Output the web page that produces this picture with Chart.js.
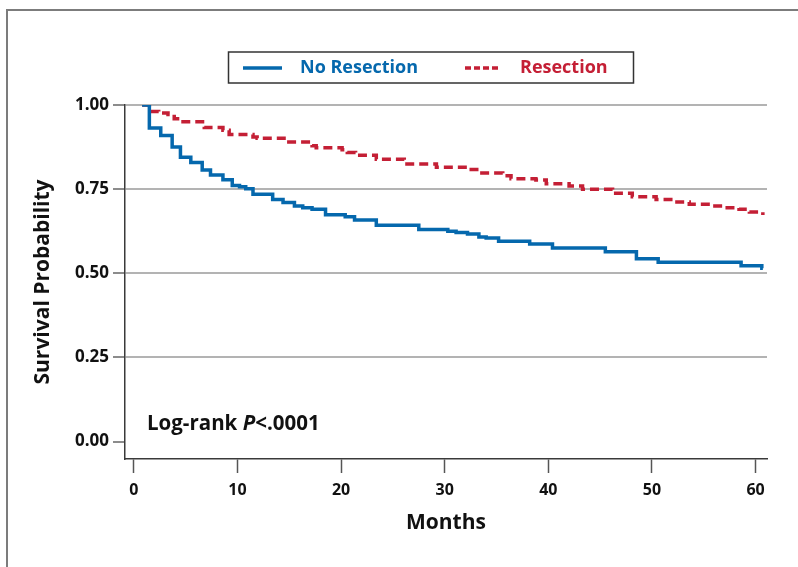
<!DOCTYPE html>
<html>
<head>
<meta charset="utf-8">
<title>Survival by resection status</title>
<script src="https://cdn.jsdelivr.net/npm/chart.js@4.4.1/dist/chart.umd.min.js"></script>
<style>
  html, body { margin: 0; padding: 0; background: #ffffff; }
  canvas { display: block; }
</style>
</head>
<body>
<canvas id="km" width="798" height="567"></canvas>
<script>
// Kaplan-Meier estimates: month of each drop and the survival after it
const seriesNames = ['No Resection', 'Resection'];

const noResectionMonths = [0.8, 1.5, 2.6, 3.7, 4.5, 5.5, 6.6, 7.4, 8.6, 9.5, 10.2, 10.8, 11.5,
  13.4, 14.4, 15.5, 16.3, 17.2, 18.5, 20.4, 21.3, 23.4, 27.5, 30.3, 31.1, 32.2, 33.3, 34.0,
  35.2, 38.2, 40.4, 45.5, 48.5, 50.6, 58.6, 60.6, 60.7];
const noResectionSurvival = [1.0, 0.932, 0.909, 0.875, 0.845, 0.829, 0.807, 0.792, 0.778, 0.761, 0.757, 0.751, 0.735,
  0.719, 0.710, 0.700, 0.695, 0.690, 0.674, 0.668, 0.658, 0.643, 0.630, 0.625, 0.621, 0.617, 0.608, 0.605,
  0.595, 0.587, 0.575, 0.564, 0.543, 0.533, 0.522, 0.515, 0.515];

const resectionMonths = [0.8, 1.5, 2.4, 3.3, 3.9, 4.4, 6.8, 8.6, 9.2, 11.5, 11.9, 14.7, 17.2, 17.6,
  20.1, 20.6, 21.4, 23.4, 26.1, 29.2, 32.2, 33.3, 35.6, 36.4, 38.8, 39.8, 42.0, 43.3, 46.2,
  48.1, 50.4, 52.0, 53.6, 55.9, 56.8, 58.4, 59.4, 60.7];
const resectionSurvival = [1.0, 0.981, 0.976, 0.972, 0.959, 0.950, 0.933, 0.925, 0.912, 0.905, 0.901, 0.890, 0.879, 0.873,
  0.867, 0.859, 0.851, 0.839, 0.825, 0.815, 0.808, 0.798, 0.790, 0.781, 0.777, 0.766, 0.759, 0.750, 0.738,
  0.727, 0.719, 0.712, 0.705, 0.700, 0.695, 0.690, 0.682, 0.673];

const monthTicks = [0, 10, 20, 30, 40, 50, 60];
const probabilityTicks = [0, 0.25, 0.5, 0.75, 1.0];
const probabilityLabels = ['0.00', '0.25', '0.50', '0.75', '1.00'];

const BLUE = '#0568ad';
const RED = '#c41f35';
const FONT = '"Open Sans", "Noto Sans", sans-serif';

function toPoints(months, values) {
  return months.map((m, i) => ({ x: m, y: values[i] }));
}

// Page frame, boxed legend and the log-rank annotation
const decorations = {
  id: 'decorations',
  beforeDraw(chart) {
    const ctx = chart.ctx;
    ctx.save();
    ctx.strokeStyle = '#7c7c7c';
    ctx.lineWidth = 2;
    ctx.beginPath();
    ctx.moveTo(7, 567);
    ctx.lineTo(7, 10);
    ctx.lineTo(798, 10);
    ctx.stroke();
    ctx.restore();
  },
  afterDraw(chart) {
    const ctx = chart.ctx;
    const sets = chart.data.datasets;
    ctx.save();
    // legend box
    ctx.strokeStyle = '#333333';
    ctx.lineWidth = 1.5;
    ctx.strokeRect(228.5, 52, 405, 31);

    ctx.textBaseline = 'middle';
    ctx.font = `bold 18px ${FONT}`;
    const rowY = 68;
    // first entry
    ctx.strokeStyle = sets[0].borderColor;
    ctx.lineWidth = 3.5;
    ctx.setLineDash([]);
    ctx.beginPath(); ctx.moveTo(243, rowY); ctx.lineTo(282, rowY); ctx.stroke();
    ctx.fillStyle = sets[0].borderColor;
    ctx.fillText(sets[0].label, 300, rowY);
    // second entry
    ctx.strokeStyle = sets[1].borderColor;
    ctx.setLineDash([6, 3]);
    ctx.beginPath(); ctx.moveTo(465, rowY); ctx.lineTo(499, rowY); ctx.stroke();
    ctx.setLineDash([]);
    ctx.fillStyle = sets[1].borderColor;
    ctx.fillText(sets[1].label, 520, rowY);

    // log-rank annotation
    ctx.fillStyle = '#111111';
    let x = 147;
    const y = 424;
    const parts = [['Log-rank ', 'bold'], ['P', 'italic bold'], ['<.0001', 'bold']];
    for (const [txt, style] of parts) {
      ctx.font = `${style} 20.5px ${FONT}`;
      ctx.fillText(txt, x, y);
      x += ctx.measureText(txt).width;
    }
    ctx.restore();
  }
};

new Chart(document.getElementById('km'), {
  type: 'line',
  data: {
    datasets: [
      {
        label: seriesNames[0],
        data: toPoints(noResectionMonths, noResectionSurvival),
        borderColor: BLUE,
        borderWidth: 3.5,
        stepped: true,
        pointRadius: 0,
        fill: false
      },
      {
        label: seriesNames[1],
        data: toPoints(resectionMonths, resectionSurvival),
        borderColor: RED,
        borderWidth: 3.5,
        borderDash: [9, 5],
        stepped: true,
        pointRadius: 0,
        fill: false
      }
    ]
  },
  options: {
    responsive: false,
    animation: false,
    devicePixelRatio: 1,
    layout: { padding: { top: 105, right: 31, left: 0, bottom: 0 } },
    plugins: {
      legend: { display: false },
      tooltip: { enabled: false }
    },
    scales: {
      x: {
        type: 'linear',
        min: -0.85,
        max: 61.1,
        afterFit(scale) { scale.height = 108; },
        afterBuildTicks(scale) { scale.ticks = monthTicks.map(v => ({ value: v })); },
        border: { color: '#3a3a3a', width: 1.5 },
        grid: { drawOnChartArea: false, drawTicks: true, tickLength: 14, tickColor: '#555555', tickWidth: 1.5 },
        ticks: {
          color: '#111111',
          padding: 8,
          maxRotation: 0,
          font: { family: FONT, size: 16, weight: 'bold' },
          callback: v => String(v)
        },
        title: {
          display: true,
          text: 'Months',
          color: '#111111',
          font: { family: FONT, size: 21, weight: 'bold' },
          padding: { top: 0, bottom: 31 }
        }
      },
      y: {
        type: 'linear',
        min: -0.052,
        max: 1.0,
        afterFit(scale) { scale.width = 125; },
        afterBuildTicks(scale) { scale.ticks = probabilityTicks.map(v => ({ value: v })); },
        border: { color: '#3a3a3a', width: 1.5 },
        grid: {
          color: ctx => (ctx.tick && ctx.tick.value === 0 ? 'rgba(0,0,0,0)' : '#b3b3b3'),
          lineWidth: 2,
          tickLength: 12,
          tickColor: '#666666',
          tickWidth: 1.5
        },
        ticks: {
          color: '#111111',
          padding: 4,
          font: { family: FONT, size: 17, weight: 'bold' },
          callback: v => probabilityLabels[probabilityTicks.indexOf(v)]
        },
        title: {
          display: true,
          text: 'Survival Probability',
          color: '#111111',
          font: { family: FONT, size: 21, weight: 'bold' },
          padding: { top: 30, bottom: 0 }
        }
      }
    }
  },
  plugins: [decorations]
});
</script>
</body>
</html>
